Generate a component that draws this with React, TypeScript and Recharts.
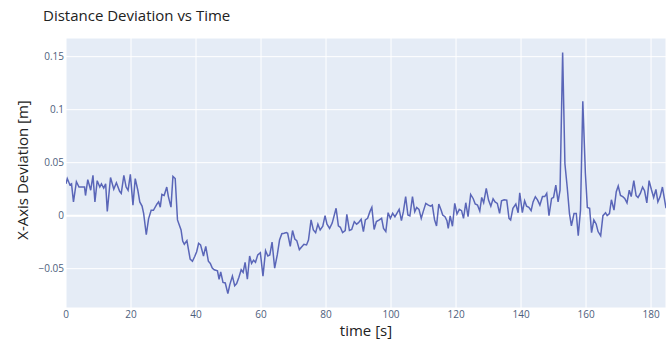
import React from 'react';
import { LineChart, Line, XAxis, YAxis, CartesianGrid } from 'recharts';

// Sample times in seconds
const timeS = [
  0, 0.4, 1.2, 1.7, 2.3, 3.2, 4.0, 5.0, 5.7, 6.0, 6.7, 7.6, 8.3, 8.9, 9.6, 10.4, 10.9, 11.6, 12.2, 12.7,
  13.7, 14.7, 15.5, 16.5, 17.0, 17.8, 18.5, 19.1, 19.8, 20.6, 21.3, 22.1, 22.7, 23.4, 23.9, 24.7, 25.4, 26.2, 26.9, 28.0,
  28.5, 29.0, 29.5, 30.2, 31.0, 31.5, 32.3, 32.9, 33.6, 34.3,
  35.4, 35.9, 36.4, 37.2, 38.2, 38.9, 39.6, 40.2, 40.8, 41.4, 42.3, 43.0, 43.8, 44.4, 45.0, 45.6, 46.6, 47.1, 47.6, 48.3,
  49.0, 49.8, 50.4, 51.2, 51.9, 52.5, 53.2, 53.9, 54.5, 55.1, 55.8, 56.5, 57.1, 57.7, 58.3, 59.0, 59.8, 60.6, 61.4, 62.1,
  62.7, 63.4, 64.2, 65.0, 65.7, 66.4, 67.1, 67.8, 68.2, 69.0, 69.7, 70.4, 71.0, 71.8,
  73.2, 74.0, 74.6, 75.4, 76.1, 76.8, 77.5, 78.2, 79.0, 79.7, 80.3, 81.1, 81.9, 83.1, 83.8, 84.4, 85.1, 85.9, 86.4, 87.2,
  87.9, 88.7, 89.4, 90.0, 90.8, 91.5, 92.1, 92.8, 93.5, 94.1, 94.8, 95.5, 96.4, 97.1, 97.7, 98.4, 99.1, 99.8, 100.5, 101.2,
  101.8, 102.5, 103.2, 103.8, 104.5, 105.2, 105.8, 106.6, 107.3, 107.9, 108.6, 109.3, 109.9, 110.7, 111.5, 112.2, 112.7, 113.4, 114.0, 114.7,
  115.4, 115.9, 116.6, 117.2, 117.6, 118.2, 118.9, 119.6, 120.3, 121.0, 121.7, 122.3, 123.0, 123.7, 124.5, 125.3, 125.9, 126.6, 127.3, 127.9,
  128.5, 129.3, 130.0, 130.7, 131.4, 132.0, 132.7, 133.4, 134.0, 134.8, 135.6, 136.3, 136.8, 137.5, 138.4, 139.1, 139.6, 140.4, 141.1, 141.7,
  142.4, 143.1, 143.7, 144.4, 145.1, 145.8,
  146.6, 147.3, 147.9, 148.6, 149.4, 150.0, 150.7, 151.4, 152.0, 152.8, 153.5, 154.2, 154.9, 155.5, 156.3, 157.0, 157.6, 158.3, 159.0, 159.8,
  160.4, 161.1, 161.7, 162.4, 163.1, 163.7, 164.5, 165.2, 166.0, 166.5, 167.2, 167.8, 168.6, 169.3, 169.9, 170.6, 171.3, 171.9, 172.6, 173.3,
  173.9, 174.7, 175.4, 176.0, 176.7, 177.4, 178.0, 178.7, 179.4, 180.1, 180.8, 181.5, 182.1, 182.8, 183.5, 184.6,
];

// X-axis deviation in metres at each sample time
const deviationM = [
  0.030, 0.035, 0.029, 0.030, 0.013, 0.032, 0.027, 0.027, 0.027, 0.019, 0.034, 0.024, 0.038, 0.013, 0.033, 0.027, 0.030, 0.026, 0.030, 0.004,
  0.036, 0.025, 0.031, 0.023, 0.021, 0.038, 0.027, 0.024, 0.039, 0.010, 0.035, 0.024, 0.013, 0.009, 0.002, -0.018, -0.003, 0.005, 0.005, 0.011,
  0.013, 0.008, 0.020, 0.019, 0.027, 0.018, 0.008, 0.037, 0.035, -0.004,
  -0.0135, -0.024, -0.027, -0.0235, -0.041, -0.043, -0.0385, -0.034, -0.026, -0.0275, -0.038, -0.029, -0.043, -0.045, -0.0495, -0.051, -0.052, -0.060, -0.053, -0.063,
  -0.0635, -0.0735, -0.065, -0.057, -0.066, -0.064, -0.058, -0.051, -0.0535, -0.044, -0.060, -0.038, -0.045, -0.042, -0.044, -0.037, -0.035, -0.057, -0.033, -0.038,
  -0.037, -0.025, -0.0495, -0.037, -0.023, -0.017, -0.0166, -0.016, -0.0166, -0.029, -0.014, -0.022, -0.0235, -0.032,
  -0.027, -0.0276, -0.023, -0.004, -0.0135, -0.016, -0.008, -0.0135, -0.010, 0.000, -0.008, -0.012, -0.007, 0.007, -0.0097, -0.011, -0.016, -0.014, 0.0013, -0.014,
  -0.013, -0.0056, -0.008, -0.0066, -0.0035, -0.015, -0.004, -0.0025, 0.0038, 0.0078, -0.013, -0.0056, -0.004, -0.0025, -0.012, -0.015, 0.0028, -0.0025, 0.0022, -0.001,
  0.0022, 0.006, -0.0047, 0.0038, 0.0179, 0.0006, -0.0003, 0.0179, 0.0038, 0.0078, 0.006, -0.0025, 0.0038, 0.0116, 0.010, 0.009, 0.010, -0.004, -0.0097, 0.011,
  0.0053, 0.0006, -0.001, -0.0047, -0.012, -0.0003, -0.010, 0.0116, 0.0016, 0.006, 0.0047, -0.0025, 0.0122, -0.001, 0.020, 0.016, 0.011, 0.010, 0.0044, 0.0172,
  0.0122, 0.0257, 0.0147, 0.009, 0.016, 0.013, 0.0116, 0.0022, 0.014, 0.015, 0.0147, -0.0025, -0.004, 0.0069, 0.011, 0.0028, 0.0216, 0.0028, 0.014, 0.009,
  0.0078, 0.0047, 0.013, 0.0179, 0.0147, 0.010,
  0.018, 0.018, 0.021, 0.000, 0.0163, 0.0172, 0.0288, 0.013, 0.024, 0.154, 0.049, 0.027, 0.002, -0.0097, 0.002, 0.002, -0.019, 0.0053, 0.108, 0.040,
  0.0078, 0.0069, -0.016, -0.004, -0.0078, -0.015, -0.019, 0.000, 0.0028, 0.000, 0.002, 0.015, 0.0053, 0.0226, 0.028, 0.019, 0.018, 0.0163, 0.012, 0.024,
  0.018, 0.033, 0.019, 0.0172, 0.021, 0.027, 0.0235, 0.012, 0.033, 0.0247, 0.0172, 0.0247, 0.013, 0.018, 0.027, 0.007,
];

const xTicks = [0, 20, 40, 60, 80, 100, 120, 140, 160, 180];
const yTicks = [-0.05, 0, 0.05, 0.1, 0.15];

const chartTitle = 'Distance Deviation vs Time';
const xTitle = 'time [s]';
const yTitle = 'X-Axis Deviation [m]';

const rows = timeS.map((t, i) => ({ t, dev: deviationM[i] }));

const FONT = '"Open Sans", "Noto Sans", sans-serif';
const TICK_COLOR = '#4d5e7c';
const TITLE_COLOR = '#222';

const formatY = (v: number) => (v === 0 ? '0' : v < 0 ? '\u2212' + String(Math.abs(v)) : String(v));

const YTitle = (props: any) => {
  const vb = props.viewBox || {};
  const cx = 22;
  const cy = (vb.y ?? 38) + (vb.height ?? 270) / 2 - 3;
  return (
    <text
      x={cx}
      y={cy}
      transform={`rotate(-90 ${cx} ${cy})`}
      textAnchor="middle"
      dominantBaseline="central"
      fontSize={15}
      fill={TITLE_COLOR}
      fontFamily={FONT}
    >
      {yTitle}
    </text>
  );
};

export default function App() {
  return (
    <div style={{ position: 'absolute', left: 0, top: 0, width: 668, height: 345, background: '#fff', fontFamily: FONT }}>
      <LineChart width={668} height={345} data={rows} margin={{ top: 38, right: 2, bottom: 0, left: 0 }}>
        <CartesianGrid fill="#E5ECF6" stroke="#ffffff" strokeWidth={1} />
        <CartesianGrid fill="none" stroke="#ffffff" strokeWidth={2} vertical={false} horizontalValues={[0]} />
        <XAxis
          type="number"
          dataKey="t"
          domain={[0, 184.6]}
          ticks={xTicks}
          allowDataOverflow
          axisLine={false}
          tickLine={false}
          tickSize={1}
          tickMargin={2}
          height={37}
          tick={{ fontSize: 10, fill: TICK_COLOR, fontFamily: FONT }}
          label={{ value: xTitle, position: 'insideBottom', offset: 9, fontSize: 15, fill: TITLE_COLOR, fontFamily: FONT }}
        />
        <YAxis
          type="number"
          domain={[-0.0871, 0.1676]}
          ticks={yTicks}
          allowDataOverflow
          axisLine={false}
          tickLine={false}
          tickSize={0}
          tickMargin={2}
          width={66}
          tickFormatter={formatY}
          tick={{ fontSize: 10, fill: TICK_COLOR, fontFamily: FONT }}
          label={{ content: YTitle }}
        />
        <Line
          type="linear"
          dataKey="dev"
          stroke="#5a66b8"
          strokeWidth={1.5}
          dot={false}
          isAnimationActive={false}
        />
      </LineChart>
      <svg width={668} height={34} style={{ position: 'absolute', left: 0, top: 0, pointerEvents: 'none' }}>
        <text x={43} y={21} fontSize={15} fill={TITLE_COLOR} fontFamily={FONT}>
          {chartTitle}
        </text>
      </svg>
    </div>
  );
}
